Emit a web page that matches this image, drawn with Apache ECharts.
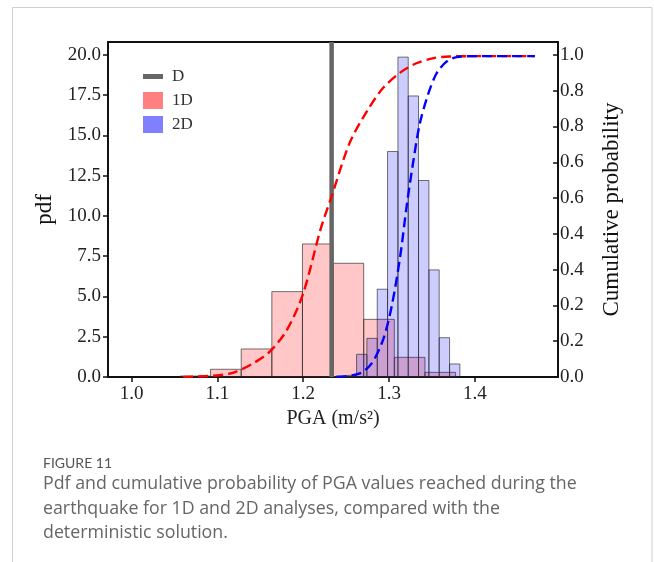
<!DOCTYPE html>
<html>
<head>
<meta charset="utf-8">
<script src="https://cdn.jsdelivr.net/npm/echarts@6/dist/echarts.min.js"></script>
<style>
  html, body { margin: 0; padding: 0; background: #fff; }
  #chart { width: 654px; height: 562px; }
</style>
</head>
<body>
<div id="chart"></div>
<script>
// histogram bins (edges, pdf heights)
const oneDEdges = [1.0563, 1.0920, 1.1277, 1.1634, 1.1991, 1.2348, 1.2705, 1.3062, 1.3419, 1.3776];
const oneDPdf = [0.06, 0.48, 1.74, 5.3, 8.26, 7.06, 3.58, 1.22, 0.29];
const twoDEdges = [1.2381, 1.2502, 1.2622, 1.2742, 1.2863, 1.2983, 1.3104, 1.3224, 1.3344, 1.3465, 1.3585, 1.3706, 1.3826];
const twoDPdf = [0.06, 0.1, 1.41, 2.4, 5.45, 14.0, 19.86, 17.45, 12.2, 6.65, 2.44, 0.81];

// cumulative probability curves
const oneDCdfX = [1.060, 1.095, 1.118, 1.142, 1.161, 1.181, 1.200, 1.220, 1.233, 1.254, 1.274, 1.293, 1.313, 1.332, 1.352, 1.371, 1.400, 1.470];
const oneDCdfY = [0.0, 0.004, 0.013, 0.043, 0.079, 0.146, 0.26, 0.457, 0.56, 0.726, 0.824, 0.897, 0.945, 0.974, 0.990, 0.995, 0.996, 0.996];
const twoDCdfX = [1.239, 1.266, 1.280, 1.293, 1.303, 1.313, 1.3205, 1.328, 1.336, 1.346, 1.3555, 1.367, 1.379, 1.402, 1.470];
const twoDCdfY = [0.0, 0.011, 0.043, 0.115, 0.218, 0.374, 0.529, 0.664, 0.788, 0.881, 0.943, 0.979, 0.993, 0.996, 0.996];

// deterministic solution
const detPGA = 1.2331;

// right axis tick labels (as printed in the figure)
const cdfTickLabels = ['0.0', '0.2', '0.2', '0.4', '0.4', '0.6', '0.6', '0.8', '0.8', '1.0'];

const serif = '"Liberation Serif", "DejaVu Serif", serif';

function binsToData(edges, heights) {
    return heights.map((h, i) => [edges[i], edges[i + 1], h]);
}

function histItem(fill) {
    return function (params, api) {
        const p0 = api.coord([api.value(0), api.value(2)]);
        const p1 = api.coord([api.value(1), 0]);
        return {
            type: 'rect',
            shape: {x: p0[0], y: p0[1], width: p1[0] - p0[0], height: p1[1] - p0[1]},
            style: {fill: fill, stroke: 'rgba(40,40,40,0.65)', lineWidth: 1}
        };
    };
}

const chart = echarts.init(document.getElementById('chart'), null, {renderer: 'canvas'});

const option = {
    animation: false,
    backgroundColor: '#fff',
    grid: {
        left: 108, right: 96, top: 42, bottom: 185,
        show: true, borderColor: '#111', borderWidth: 1.8, backgroundColor: 'transparent'
    },
    legend: {
        left: 143, top: 68, orient: 'vertical', padding: 0,
        itemWidth: 20, itemHeight: 17, itemGap: 7,
        selectedMode: false,
        textStyle: {fontFamily: serif, fontSize: 17, color: '#333', padding: [0, 0, 0, 4]},
        data: [
            {name: 'D', icon: 'path://M0,0 L20,0 L20,5 L0,5 Z', itemStyle: {color: '#666', borderWidth: 0}},
            {name: '1D', icon: 'rect', itemStyle: {color: '#ff8080', borderWidth: 0}},
            {name: '2D', icon: 'rect', itemStyle: {color: '#8080ff', borderWidth: 0}}
        ]
    },
    xAxis: {
        type: 'value', min: 0.9724, max: 1.497,
        name: 'PGA (m/s²)', nameLocation: 'middle', nameGap: 32,
        nameTextStyle: {fontFamily: serif, fontSize: 20, color: '#222'},
        splitLine: {show: false},
        axisLine: {lineStyle: {color: '#111', width: 1.8}},
        axisTick: {length: 5, lineStyle: {color: '#111', width: 1.5}},
        axisLabel: {
            fontFamily: serif, fontSize: 19, color: '#222', margin: 8,
            showMinLabel: false, showMaxLabel: false,
            formatter: v => v.toFixed(1)
        }
    },
    yAxis: [
        {
            type: 'value', min: 0, max: 20.8, interval: 2.5,
            name: 'pdf', nameLocation: 'middle', nameGap: 50, nameRotate: 90,
            nameTextStyle: {fontFamily: serif, fontSize: 23, color: '#111'},
            splitLine: {show: false},
            axisLine: {show: true, lineStyle: {color: '#111', width: 1.8}},
            axisTick: {show: true, length: 5, lineStyle: {color: '#111', width: 1.5}},
            axisLabel: {
                fontFamily: serif, fontSize: 19, color: '#222', margin: 7,
                showMaxLabel: false,
                formatter: v => v > 20.01 ? '' : v.toFixed(1)
            }
        },
        {
            type: 'value', min: 0, max: 1.04, interval: 1 / 9, position: 'right',
            name: 'Cumulative probability', nameLocation: 'middle', nameGap: 42, nameRotate: 90,
            nameTextStyle: {fontFamily: serif, fontSize: 23, color: '#111'},
            splitLine: {show: false},
            axisLine: {show: true, lineStyle: {color: '#111', width: 1.8}},
            axisTick: {show: true, inside: true, length: 5, lineStyle: {color: '#111', width: 1.5}},
            axisLabel: {
                fontFamily: serif, fontSize: 19, color: '#222', margin: 2,
                showMaxLabel: false,
                formatter: v => {
                    const i = Math.round(v * 9);
                    return Math.abs(v * 9 - i) < 0.01 && cdfTickLabels[i] !== undefined ? cdfTickLabels[i] : '';
                }
            }
        }
    ],
    series: [
        {
            name: '1D', type: 'custom', xAxisIndex: 0, yAxisIndex: 0,
            renderItem: histItem('rgba(255,0,0,0.22)'),
            encode: {x: [0, 1], y: 2},
            itemStyle: {color: '#ff8080'},
            data: binsToData(oneDEdges, oneDPdf),
            z: 2
        },
        {
            name: '2D', type: 'custom', xAxisIndex: 0, yAxisIndex: 0,
            renderItem: histItem('rgba(0,0,255,0.2)'),
            encode: {x: [0, 1], y: 2},
            itemStyle: {color: '#8080ff'},
            data: binsToData(twoDEdges, twoDPdf),
            z: 3
        },
        {
            name: 'D', type: 'line', yAxisIndex: 0,
            symbol: 'none',
            lineStyle: {color: '#666', width: 4.5},
            itemStyle: {color: '#666'},
            data: [[detPGA, 0], [detPGA, 20.8]],
            z: 4
        },
        {
            name: '1D CDF', type: 'line', yAxisIndex: 1,
            symbol: 'none', smooth: 0.3,
            lineStyle: {color: '#ff0000', width: 2.4, type: [10, 5]},
            data: oneDCdfX.map((x, i) => [x, oneDCdfY[i]]),
            z: 5
        },
        {
            name: '2D CDF', type: 'line', yAxisIndex: 1,
            symbol: 'none', smooth: 0.3,
            lineStyle: {color: '#0000ff', width: 2.4, type: [10, 5]},
            data: twoDCdfX.map((x, i) => [x, twoDCdfY[i]]),
            z: 5
        }
    ],
    graphic: [
        {
            type: 'rect', silent: true, z: -10,
            shape: {x: 12.5, y: 7.5, width: 639.5, height: 600},
            style: {fill: 'none', stroke: '#cfcfcf', lineWidth: 1}
        },
        {
            type: 'text', left: 43, top: 456,
            style: {text: 'FIGURE 11', font: '14px Lato, "Open Sans", sans-serif', fill: '#555'}
        },
        {
            type: 'text', left: 43, top: 472,
            style: {
                text: 'Pdf and cumulative probability of PGA values reached during the\nearthquake for 1D and 2D analyses, compared with the\ndeterministic solution.',
                font: '17.8px "Open Sans", Lato, sans-serif', fill: '#666', lineHeight: 24.5
            }
        }
    ]
};

chart.setOption(option);
</script>
</body>
</html>
